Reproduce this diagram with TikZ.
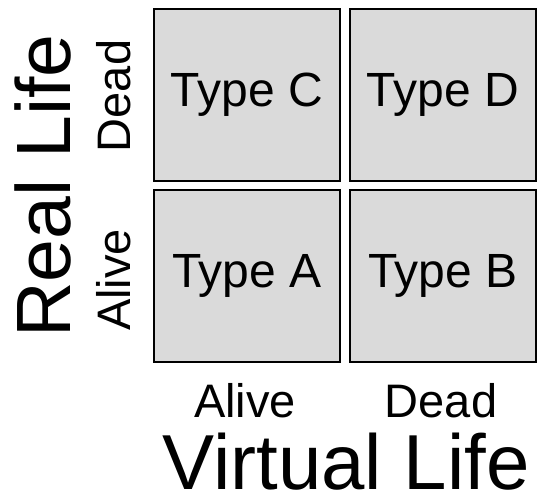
\documentclass[tikz,border=0pt]{standalone}
\usepackage{fontspec}
\setmainfont{Liberation Sans}
\definecolor{boxgray}{RGB}{218,218,218}
\begin{document}
\begin{tikzpicture}[x=1pt,y=-1pt,
  cell/.style={draw=black,line width=2pt,fill=boxgray,minimum width=186pt,minimum height=172pt,inner sep=0pt,font=\fontsize{48}{56}\selectfont},
  small/.style={inner sep=0pt,anchor=base,font=\fontsize{47}{56}\selectfont},
  big/.style={inner sep=0pt,anchor=base,font=\fontsize{78}{90}\selectfont}]
\useasboundingbox (0,0) rectangle (538,495);
\node[cell] (c) at (247,95) {Type C};
\node[cell] (d) at (443,95) {Type D};
\node[cell] (a) at (247,276) {Type A};
\node[cell] (b) at (443,276) {Type B};
\node[small] (valive) at (245,417) {Alive};
\node[small] (vdead) at (441,417) {Dead};
\node[big] (vlife) at (346,489) {Virtual Life};
\node[small,rotate=90] (rdead) at (130,96) {Dead};
\node[small,rotate=90] (ralive) at (130,280) {Alive};
\node[big,rotate=90,font=\fontsize{77}{90}\selectfont] (rlife) at (70,186) {Real Life};
\end{tikzpicture}
\end{document}
